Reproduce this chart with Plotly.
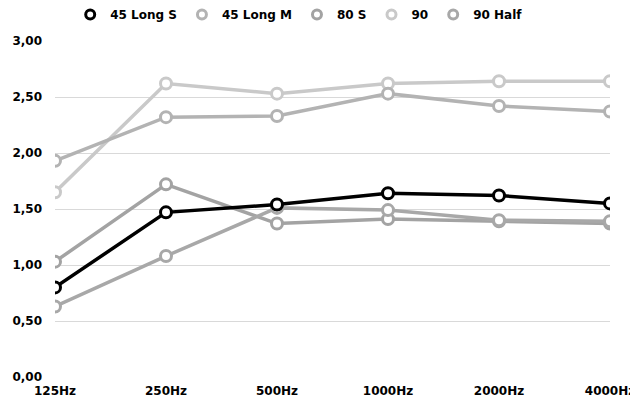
import plotly.graph_objects as go

categories = ["125Hz", "250Hz", "500Hz", "1000Hz", "2000Hz", "4000Hz"]
series_names = ["45 Long S", "45 Long M", "80 S", "90", "90 Half"]
long_s = [0.80, 1.47, 1.54, 1.64, 1.62, 1.55]
long_m = [1.93, 2.32, 2.33, 2.53, 2.42, 2.37]
s80 = [1.03, 1.72, 1.37, 1.41, 1.39, 1.37]
s90 = [1.65, 2.62, 2.53, 2.62, 2.64, 2.64]
half90 = [0.63, 1.08, 1.51, 1.49, 1.40, 1.39]
values = [long_s, long_m, s80, s90, half90]
colors = ["#000000", "#b3b3b3", "#a3a3a3", "#c9c9c9", "#a8a8a8"]
y_ticks = [0, 0.5, 1.0, 1.5, 2.0, 2.5, 3.0]

FONT = "DejaVu Sans"

fig = go.Figure()
# draw order: lighter behind, black on top
order = [3, 1, 2, 4, 0]
for i in order:
    fig.add_trace(go.Scatter(
        x=categories, y=values[i], mode="lines+markers", name=series_names[i],
        line=dict(color=colors[i], width=3.5),
        marker=dict(symbol="circle", size=11, color="white",
                    line=dict(color=colors[i], width=3)),
        showlegend=False,
    ))
for i in range(5):
    fig.add_trace(go.Scatter(
        x=[categories[0]], y=[None], mode="markers", name=series_names[i],
        marker=dict(symbol="circle", size=9, color="white",
                    line=dict(color=colors[i], width=3)),
        showlegend=True,
    ))

fig.update_layout(
    width=638, height=408,
    margin=dict(l=47, r=36, t=33, b=39, autoexpand=False),
    paper_bgcolor="white", plot_bgcolor="white",
    separators=",.",
    font=dict(family=FONT, size=12, color="#000000", weight="bold"),
    showlegend=True,
    legend=dict(orientation="h", x=0.44, xanchor="center", y=0.984, yanchor="middle",
                yref="container", font=dict(family=FONT, size=12, weight="bold"),
                itemwidth=30, traceorder="normal"),
    xaxis=dict(type="category", range=[0, 5], showgrid=False, zeroline=False,
               showline=False, ticks="", ticklabelstandoff=5),
    yaxis=dict(range=[0, 3], tickvals=y_ticks, tickformat=".2f",
               showgrid=True, gridcolor="#d9d9d9", gridwidth=1,
               zeroline=False, showline=False, ticks="", ticklabelstandoff=12),
)

fig.write_html("out.html")
